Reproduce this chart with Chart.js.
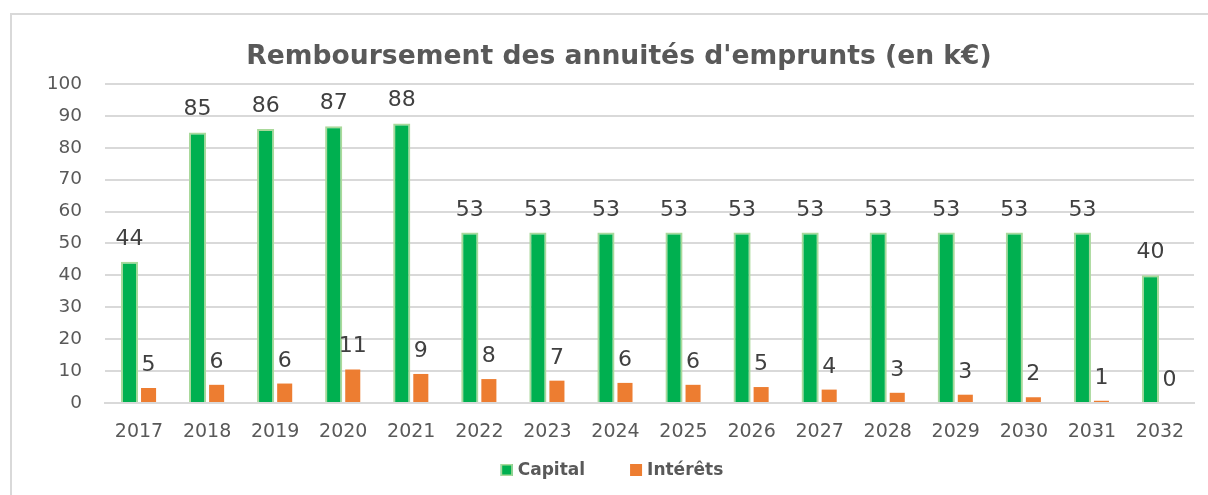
<!DOCTYPE html>
<html>
<head>
<meta charset="utf-8">
<script src="https://cdn.jsdelivr.net/npm/chart.js@4/dist/chart.umd.min.js"></script>
<style>
  html, body { margin: 0; padding: 0; background: #fff; overflow: hidden; }
  .wrap { position: relative; width: 1208px; height: 495px; }
  .frame { position: absolute; left: 10px; top: 13px; width: 1300px; height: 600px; border: 2px solid #d9d9d9; pointer-events: none; }
  canvas { position: absolute; left: 0; top: 0; }
</style>
</head>
<body>
<div class="wrap">
  <canvas id="chart" width="1208" height="495"></canvas>
  <div class="frame"></div>
</div>
<script>
const years = ["2017", "2018", "2019", "2020", "2021", "2022", "2023", "2024", "2025", "2026", "2027", "2028", "2029", "2030", "2031", "2032"];
const capital = [44.3, 84.8, 85.9, 86.7, 87.6, 53.4, 53.4, 53.4, 53.4, 53.4, 53.4, 53.4, 53.4, 53.4, 53.4, 40.0];
const interets = [4.7, 5.7, 6.1, 10.5, 9.1, 7.5, 7.0, 6.3, 5.7, 5.0, 4.2, 3.2, 2.6, 1.8, 0.7, 0.0];
const yTicks = [0, 10, 20, 30, 40, 50, 60, 70, 80, 90, 100];

const FONT = "'DejaVu Sans', sans-serif";

// draws the value above each bar, like excel "outside end" labels
const valueLabels = {
  id: "valueLabels",
  afterDatasetsDraw(chart) {
    const ctx = chart.ctx;
    ctx.save();
    ctx.font = `22px ${FONT}`;
    ctx.fillStyle = "#404040";
    ctx.textAlign = "center";
    ctx.textBaseline = "alphabetic";
    chart.data.datasets.forEach((ds, i) => {
      chart.getDatasetMeta(i).data.forEach((bar, j) => {
        ctx.fillText(Math.round(ds.data[j]), bar.x, bar.y - 17);
      });
    });
    ctx.restore();
  }
};

// excel style legend, wider gap between items than the built-in one allows
const bottomLegend = {
  id: "bottomLegend",
  afterDraw(chart) {
    const ctx = chart.ctx;
    const box = 12, gap = 5, spacing = 45, y = 470;
    ctx.save();
    ctx.font = `bold 17px ${FONT}`;
    ctx.textBaseline = "middle";
    const items = chart.data.datasets.map(ds => ({ ds, w: ctx.measureText(ds.label).width }));
    const total = items.reduce((acc, it) => acc + box + gap + it.w, 0) + spacing * (items.length - 1);
    let x = chart.width / 2 + 8 - total / 2;
    items.forEach(({ ds, w }) => {
      ctx.fillStyle = ds.backgroundColor;
      ctx.fillRect(x, y - box / 2, box, box);
      if (ds.borderWidth) {
        ctx.strokeStyle = ds.borderColor;
        ctx.lineWidth = 1.5;
        ctx.strokeRect(x + 0.75, y - box / 2 + 0.75, box - 1.5, box - 1.5);
      }
      ctx.fillStyle = "#595959";
      ctx.fillText(ds.label, x + box + gap, y + 1);
      x += box + gap + w + spacing;
    });
    ctx.restore();
  }
};

new Chart(document.getElementById("chart"), {
  type: "bar",
  data: {
    labels: years,
    datasets: [
      {
        label: "Capital",
        data: capital,
        backgroundColor: "#00b050",
        borderColor: "#a9d99b",
        borderWidth: 2,
        borderSkipped: "bottom",
        barPercentage: 0.9,
        categoryPercentage: 0.56,
      },
      {
        label: "Intérêts",
        data: interets,
        backgroundColor: "#ed7d31",
        borderWidth: 0,
        barPercentage: 0.79,
        categoryPercentage: 0.56,
      },
    ],
  },
  options: {
    responsive: false,
    animation: false,
    layout: { padding: { left: 44, right: 14, top: 41, bottom: 34 } },
    plugins: {
      title: {
        display: true,
        text: "Remboursement des annuités d'emprunts (en k€)",
        color: "#595959",
        font: { family: FONT, size: 26.6, weight: "bold" },
        padding: { top: 0, bottom: 11 },
      },
      legend: { display: false },
      tooltip: { enabled: false },
    },
    scales: {
      x: {
        grid: { display: false, drawTicks: false },
        border: { color: "#d9d9d9", width: 2 },
        ticks: {
          color: "#595959",
          font: { family: FONT, size: 19 },
          padding: 17.6,
        },
      },
      y: {
        min: 0,
        max: 100,
        afterBuildTicks: (axis) => { axis.ticks = yTicks.map(v => ({ value: v })); },
        afterFit: (axis) => { axis.width = 61; },
        grid: { color: "#d9d9d9", lineWidth: 2, drawTicks: false },
        border: { display: false },
        ticks: {
          color: "#595959",
          font: { family: FONT, size: 18.5 },
          padding: 23,
        },
      },
    },
  },
  plugins: [valueLabels, bottomLegend],
});
</script>
</body>
</html>
